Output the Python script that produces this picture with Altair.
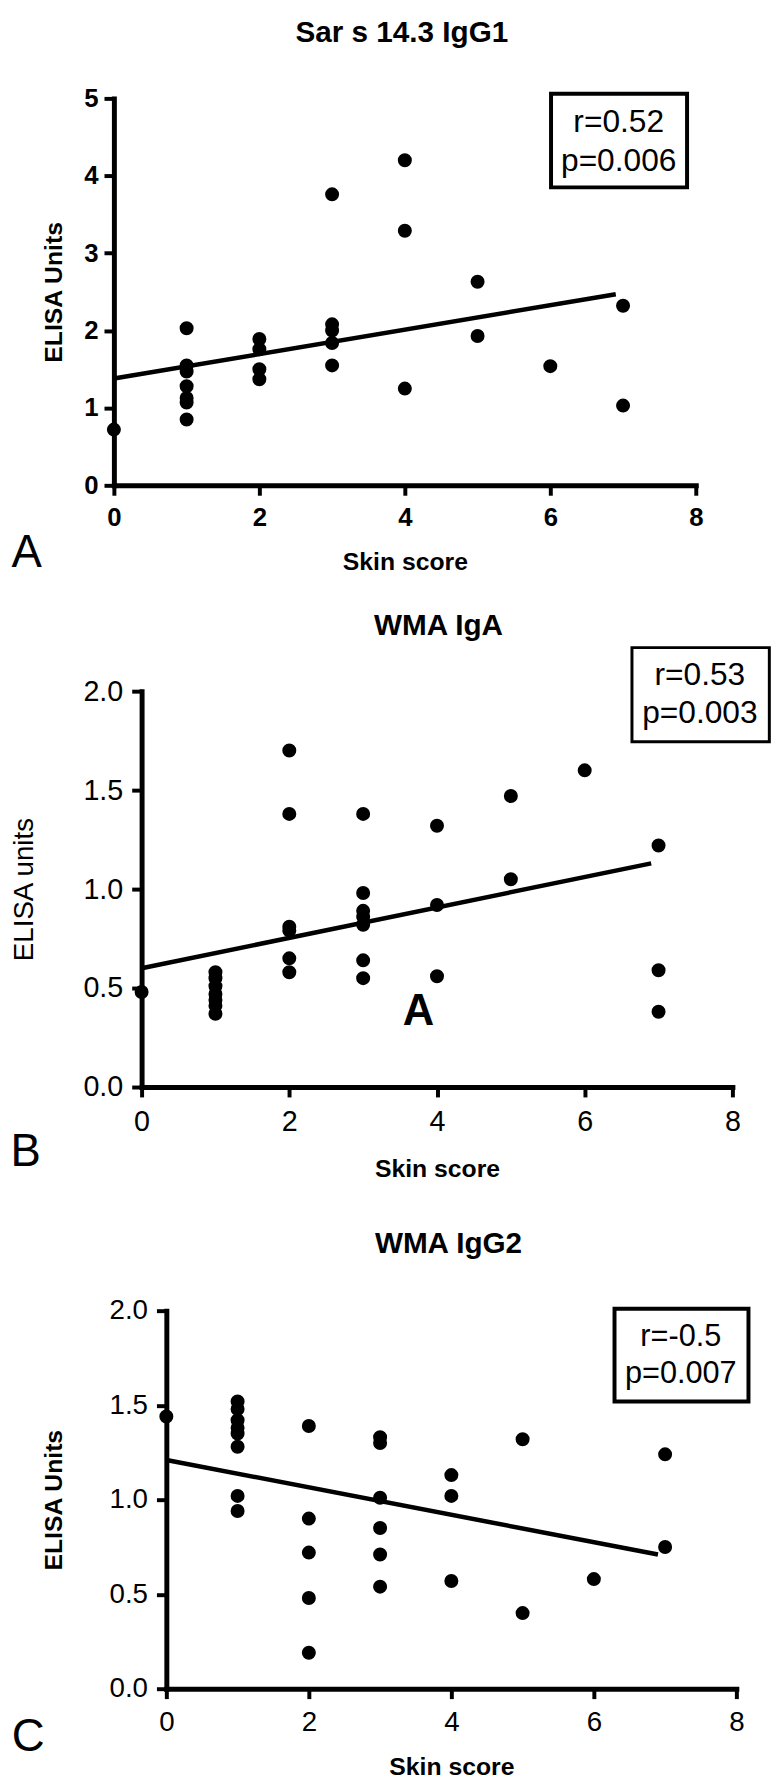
import altair as alt
import pandas as pd

FONT = "Liberation Sans"

# ---------------- data ----------------
# Panel A: Sar s 14.3 IgG1
a_score = [0, 1, 1, 1, 1, 1, 1, 1, 2, 2, 2, 2, 3, 3, 3, 3, 3, 4, 4, 4, 5, 5, 6, 7, 7]
a_units = [0.72, 2.03, 1.55, 1.47, 1.28, 1.13, 1.07, 0.85, 1.89, 1.76, 1.50, 1.37,
           3.76, 2.08, 2.00, 1.84, 1.55, 4.20, 3.29, 1.25, 2.63, 1.93, 1.54, 2.32, 1.03]
a_fit_score = [0, 6.9]
a_fit_units = [1.38, 2.47]

# Panel B: WMA IgA
b_score = [0, 1, 1, 1, 1, 1, 1, 1, 2, 2, 2, 2, 2, 2, 3, 3, 3, 3, 3, 3, 3,
           4, 4, 4, 5, 5, 6, 7, 7, 7]
b_units = [0.48, 0.58, 0.55, 0.51, 0.47, 0.44, 0.41, 0.37,
           1.70, 1.38, 0.81, 0.79, 0.65, 0.58,
           1.38, 0.98, 0.89, 0.86, 0.82, 0.64, 0.55,
           1.32, 0.92, 0.56, 1.47, 1.05, 1.60, 1.22, 0.59, 0.38]
b_fit_score = [0, 6.9]
b_fit_units = [0.60, 1.13]

# Panel C: WMA IgG2
c_score = [0, 1, 1, 1, 1, 1, 1, 1, 1, 2, 2, 2, 2, 2, 3, 3, 3, 3, 3, 3,
           4, 4, 4, 5, 5, 6, 7, 7]
c_units = [1.44, 1.52, 1.48, 1.42, 1.38, 1.35, 1.28, 1.02, 0.94,
           1.39, 0.90, 0.72, 0.48, 0.19,
           1.33, 1.30, 1.01, 0.85, 0.71, 0.54,
           1.13, 1.02, 0.57, 1.32, 0.40, 0.58, 1.24, 0.75]
c_fit_score = [0, 6.9]
c_fit_units = [1.21, 0.71]

x_ticks = [0, 2, 4, 6, 8]
a_y_ticks = [0, 1, 2, 3, 4, 5]
bc_y_ticks = [0.0, 0.5, 1.0, 1.5, 2.0]

ONE = pd.DataFrame({"k": [0]})
PANEL_W = 629


def text_layer(txt, x, y, size, weight="normal", baseline="middle"):
    return alt.Chart(ONE).mark_text(
        text=txt, font=FONT, fontSize=size, fontWeight=weight,
        align="center", baseline=baseline, color="black"
    ).encode(x=alt.datum(x), y=alt.datum(y))


def panel(score, units, fit_s, fit_u, cfg):
    pts = pd.DataFrame({"score": score, "units": units})
    fit = pd.DataFrame({"score": fit_s, "units": fit_u})
    xscale = alt.Scale(domain=[0, 8], range=cfg["xrange"], nice=False, zero=False)
    yscale = alt.Scale(domain=cfg["ydomain"], range=cfg["yrange"], nice=False, zero=False)
    xaxis = alt.Axis(
        values=x_ticks, format="d", title="Skin score",
        titleFont=FONT, titleFontSize=25, titleFontWeight="bold", titleColor="black",
        titleBaseline="middle", titleY=cfg["xtitle_y"],
        labelFont=FONT, labelFontSize=cfg["lab_size"], labelFontWeight=cfg["lab_weight"],
        labelColor="black", labelPadding=cfg["xlab_pad"], labelAngle=0,
        labelFlush=False, labelOverlap=False,
        tickSize=10, tickWidth=4, tickColor="black",
        domainWidth=5, domainColor="black", domainCap="square", grid=False,
    )
    yaxis = alt.Axis(
        values=cfg["yticks"], format=cfg["yfmt"], title=cfg["ytitle"],
        titleFont=FONT, titleFontSize=cfg["ytitle_size"], titleFontWeight=cfg["ytitle_weight"],
        titleColor="black", titleBaseline="middle", titleX=cfg["ytitle_x"],
        labelFont=FONT, labelFontSize=cfg["lab_size"], labelFontWeight=cfg["lab_weight"],
        labelColor="black", labelPadding=cfg["ylab_pad"],
        labelFlush=False, labelOverlap=False,
        tickSize=10, tickWidth=4, tickColor="black",
        domainWidth=5, domainColor="black", domainCap="square", grid=False,
        offset=cfg["yoffset"],
    )
    points = alt.Chart(pts).mark_circle(size=200, color="black", opacity=1).encode(
        x=alt.X("score:Q", scale=xscale, axis=xaxis),
        y=alt.Y("units:Q", scale=yscale, axis=yaxis),
    )
    line = alt.Chart(fit).mark_line(color="black", strokeWidth=4.5).encode(
        x="score:Q", y="units:Q"
    )
    bx = cfg["box"]
    box = alt.Chart(ONE).mark_rect(
        fill="white", stroke="black", strokeWidth=cfg["box_sw"]
    ).encode(x=alt.datum(bx[0]), x2=alt.datum(bx[1]), y=alt.datum(bx[2]), y2=alt.datum(bx[3]))
    layers = [line, points, box,
              text_layer(cfg["r"], cfg["stat_x"], cfg["r_y"], cfg["stat_size"]),
              text_layer(cfg["p"], cfg["stat_x"], cfg["p_y"], cfg["stat_size"]),
              text_layer(cfg["title"], cfg["title_x"], cfg["title_y"], 30, "bold"),
              text_layer(cfg["letter"], cfg["letter_x"], cfg["letter_y"], 46)]
    for extra in cfg.get("extra", []):
        layers.append(text_layer(*extra))
    return alt.layer(*layers).properties(width=PANEL_W, height=cfg["height"])


cfg_a = dict(
    xrange=[0, 588], ydomain=[0, 5], yrange=[391, 0], height=391, yoffset=0,
    yticks=a_y_ticks, yfmt="d", ytitle="ELISA Units", ytitle_size=25, ytitle_weight="bold",
    ytitle_x=-61, xtitle_y=77, lab_size=26, lab_weight="bold", xlab_pad=10, ylab_pad=6,
    box=[6.01, 7.88, 3.85, 5.06], box_sw=4, r="r=0.52", p="p=0.006",
    stat_x=6.94, r_y=4.69, p_y=4.19, stat_size=32,
    title="Sar s 14.3 IgG1", title_x=3.96, title_y=5.84,
    letter="A", letter_x=-1.20, letter_y=-0.87,
)
cfg_b = dict(
    xrange=[28, 625], ydomain=[0, 2], yrange=[418, 18], height=418, yoffset=-28,
    yticks=bc_y_ticks, yfmt=".1f", ytitle="ELISA units", ytitle_size=28, ytitle_weight="normal",
    ytitle_x=-118, xtitle_y=82, lab_size=29, lab_weight="normal", xlab_pad=11, ylab_pad=9,
    box=[6.64, 8.50, 1.745, 2.22], box_sw=3, r="r=0.53", p="p=0.003",
    stat_x=7.56, r_y=2.08, p_y=1.89, stat_size=32,
    title="WMA IgA", title_x=4.02, title_y=2.33,
    letter="B", letter_x=-1.57, letter_y=-0.33,
    extra=[("A", 3.75, 0.38, 44, "bold")],
)
cfg_c = dict(
    xrange=[53, 629], ydomain=[0, 2], yrange=[418, 36], height=418, yoffset=-53,
    yticks=bc_y_ticks, yfmt=".1f", ytitle="ELISA Units", ytitle_size=25, ytitle_weight="bold",
    ytitle_x=-114, xtitle_y=79, lab_size=28, lab_weight="normal", xlab_pad=10, ylab_pad=9,
    box=[6.29, 8.17, 1.52, 2.01], box_sw=4, r="r=-0.5", p="p=0.007",
    stat_x=7.22, r_y=1.86, p_y=1.665, stat_size=31,
    title="WMA IgG2", title_x=3.96, title_y=2.35,
    letter="C", letter_x=-1.94, letter_y=-0.257,
)

pa = panel(a_score, a_units, a_fit_score, a_fit_units, cfg_a)
pb = panel(b_score, b_units, b_fit_score, b_fit_units, cfg_b)
pc = panel(c_score, c_units, c_fit_score, c_fit_units, cfg_c)

chart = alt.vconcat(pa, pb, pc, spacing=190, bounds="flush").properties(
    padding={"left": 2, "top": 1, "right": 0, "bottom": 0}
).configure_view(stroke=None)

chart.save("out.html", embed_options={"renderer": "svg", "actions": False})
